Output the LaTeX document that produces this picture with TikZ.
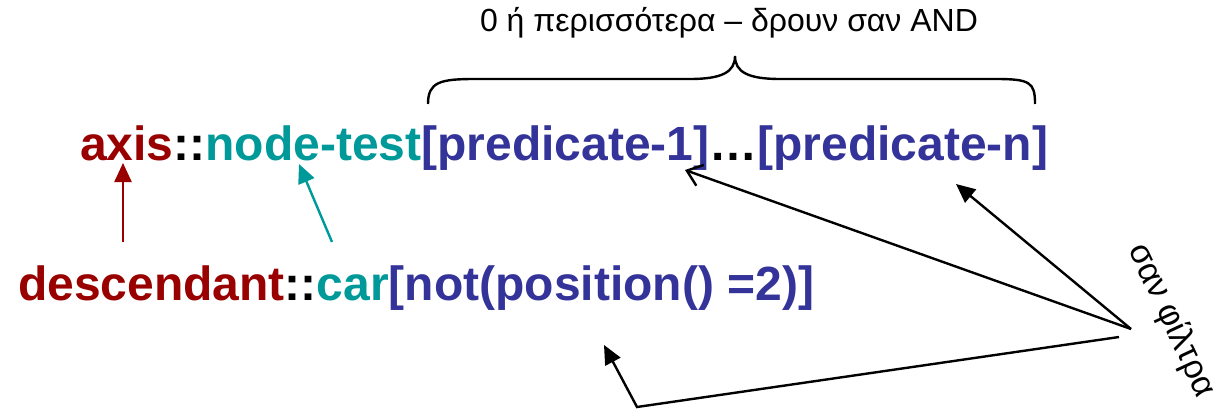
\documentclass[tikz,border=0pt]{standalone}
\usepackage{fontspec}
\setmainfont{Liberation Sans}
\usetikzlibrary{arrows.meta}
\definecolor{axred}{HTML}{990000}
\definecolor{axteal}{HTML}{009999}
\definecolor{axblue}{HTML}{333399}
\tikzset{
  big/.style={inner sep=0pt, outer sep=0pt, font=\fontsize{48}{56}\selectfont\bfseries},
  small/.style={inner sep=0pt, outer sep=0pt, font=\fontsize{32}{38}\selectfont},
  conn/.style={line width=2.4pt},
  filled/.style={-{Triangle[length=19pt,width=17pt]}},
  openhead/.style={-{Straight Barb[length=14pt,width=22pt,line width=2.4pt]}}
}
\begin{document}
\begin{tikzpicture}[x=1pt,y=-1pt]
\useasboundingbox (0,0) rectangle (1225,417);
% line 1
\node[big,anchor=base west,text=axred] (axis) at (80,160) {axis};
\node[big,anchor=base west] (c1) at (axis.base east) {::};
\node[big,anchor=base west,text=axteal] (nt) at (c1.base east) {node-test};
\node[big,anchor=base west,text=axblue] (p1) at (nt.base east) {[predicate-1]};
\node[big,anchor=base west] (dots) at (p1.base east) {…};
\node[big,anchor=base west,text=axblue] (pn) at (dots.base east) {[predicate-n]};
% line 2
\node[big,anchor=base west,text=axred] (desc) at (18,300) {descendant};
\node[big,anchor=base west] (c2) at (desc.base east) {::};
\node[big,anchor=base west,text=axteal] (car) at (c2.base east) {car};
\node[big,anchor=base west,text=axblue] (pred) at (car.base east) {[not(position() =2)]};
% top label
\node[small,anchor=base] (lbl) at (729,32) {0 ή περισσότερα – δρουν σαν AND};
% rotated label
\node[inner sep=0pt,outer sep=0pt,font=\fontsize{34}{40}\selectfont,anchor=base west,rotate=-65] (filt) at (1128,249) {σαν φίλτρα};
% brace
\coordinate (bl) at (428,104);
\coordinate (btip) at (735,56);
\coordinate (br) at (1035,104);
\draw[conn] (bl) .. controls (428,82) and (440,79) .. (475,79) -- (690,79)
  .. controls (722,79) and (735,72) .. (btip)
  .. controls (735,72) and (748,79) .. (780,79) -- (995,79)
  .. controls (1030,79) and (1035,82) .. (br);
% coloured arrows
\coordinate (r0) at (123,242);
\coordinate (r1) at (123,163);
\draw[conn,axred,filled] (r0) -- (r1);
\coordinate (t0) at (332,242);
\coordinate (t1) at (299,164);
\draw[conn,axteal,filled] (t0) -- (t1);
% black arrows
\coordinate (f0) at (1131,329);
\coordinate (a1) at (685,170);
\coordinate (a2) at (956,184);
\coordinate (f1) at (1119,337);
\coordinate (corner) at (637,407);
\coordinate (a3) at (604,345);
\draw[conn,openhead] (f0) -- (a1);
\draw[conn,filled] (f0) -- (a2);
\draw[conn,filled] (f1) -- (corner) -- (a3);
\end{tikzpicture}
\end{document}
